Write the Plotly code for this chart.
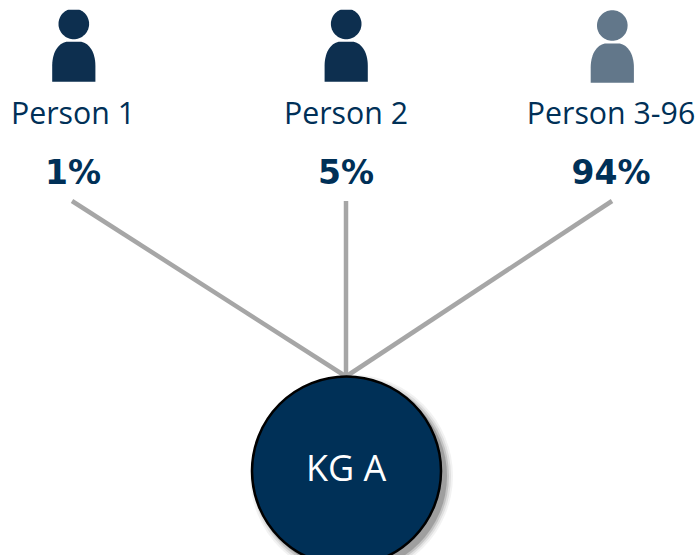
import math
import plotly.graph_objects as go

# Diagram content
people = ["Person 1", "Person 2", "Person 3-96"]
shares = ["1%", "5%", "94%"]
centre_label = "KG A"

# Layout of the diagram, in pixel-like axis units
person_x = [73.8, 346.2, 612.3]
person_y_offset = [0, 0, 1.6]
icon_colors = ["#0d2f4f", "#0d2f4f", "#62778a"]
label_x = [73, 346, 611]
label_y = 116.5
share_y = 176
line_top_x = [72, 346, 612]
line_top_y = 201
hub_x, hub_y, hub_r = 346.5, 471, 94.5
WIDTH, HEIGHT = 699, 555
NAVY = "#003057"

fig = go.Figure()
shapes = []

# Soft shadow of the hub
for grow, alpha in [(7, 0.05), (5, 0.08), (3, 0.12), (1, 0.18)]:
    shapes.append(dict(type="circle", layer="below", x0=hub_x - hub_r + 5 - grow, x1=hub_x + hub_r + 5 + grow,
                       y0=hub_y - hub_r + 5 - grow, y1=hub_y + hub_r + 5 + grow,
                       fillcolor=f"rgba(0,0,0,{alpha})", line_width=0))

# Person icons
for x, dy, color in zip(person_x, person_y_offset, icon_colors):
    cy = 23.9 + dy
    r = 15.3
    pts = []
    for i in range(72):
        a = 2 * math.pi * i / 72
        pts.append((x + r * math.cos(a), max(cy + r * math.sin(a), 9.8)))
    head = "M " + " L ".join(f"{px:.2f} {py:.2f}" for px, py in pts) + " Z"
    shapes.append(dict(type="path", layer="above", fillcolor=color, line_width=0, path=head))
    b = 81.8 + dy * 0.6
    t = 41.8 + dy
    shapes.append(dict(type="path", layer="above", fillcolor=color, line_width=0,
                       path=(f"M {x-21.6} {b} L {x-21.6} {t+24} "
                             f"C {x-21.6} {t+9} {x-14} {t} {x-6} {t} "
                             f"L {x+6} {t} "
                             f"C {x+14} {t} {x+21.6} {t+9} {x+21.6} {t+24} "
                             f"L {x+21.6} {b} Z")))

# Hub circle
shapes.append(dict(type="circle", layer="above", x0=hub_x - hub_r, x1=hub_x + hub_r,
                   y0=hub_y - hub_r, y1=hub_y + hub_r,
                   fillcolor=NAVY, line=dict(color="#000000", width=2.5)))

# Connectors
for x in line_top_x:
    fig.add_trace(go.Scatter(x=[x, 346], y=[line_top_y, hub_y - hub_r], mode="lines",
                             line=dict(color="#a6a6a6", width=4.5), hoverinfo="skip", showlegend=False))

fig.add_trace(go.Scatter(x=label_x, y=[label_y] * 3, mode="text", text=people, textposition="middle center",
                         textfont=dict(family="Open Sans", size=30.3, color=NAVY), showlegend=False, hoverinfo="skip"))
fig.add_trace(go.Scatter(x=label_x, y=[share_y] * 3, mode="text", text=shares, textposition="middle center",
                         textfont=dict(family="DejaVu Sans", size=33, color=NAVY, weight="bold"),
                         showlegend=False, hoverinfo="skip"))

fig.update_layout(
    width=WIDTH, height=HEIGHT, margin=dict(l=0, r=0, t=0, b=0),
    paper_bgcolor="white", plot_bgcolor="white", shapes=shapes,
    xaxis=dict(range=[0, WIDTH], visible=False, fixedrange=True),
    yaxis=dict(range=[HEIGHT, 0], visible=False, fixedrange=True),
    annotations=[dict(x=346, y=467, text=centre_label, showarrow=False,
                      font=dict(family="Open Sans", size=36, color="white"))],
)
fig.write_html("out.html", config={"displayModeBar": False},
               post_script="document.body.style.margin='0';document.documentElement.style.overflow='hidden';")
